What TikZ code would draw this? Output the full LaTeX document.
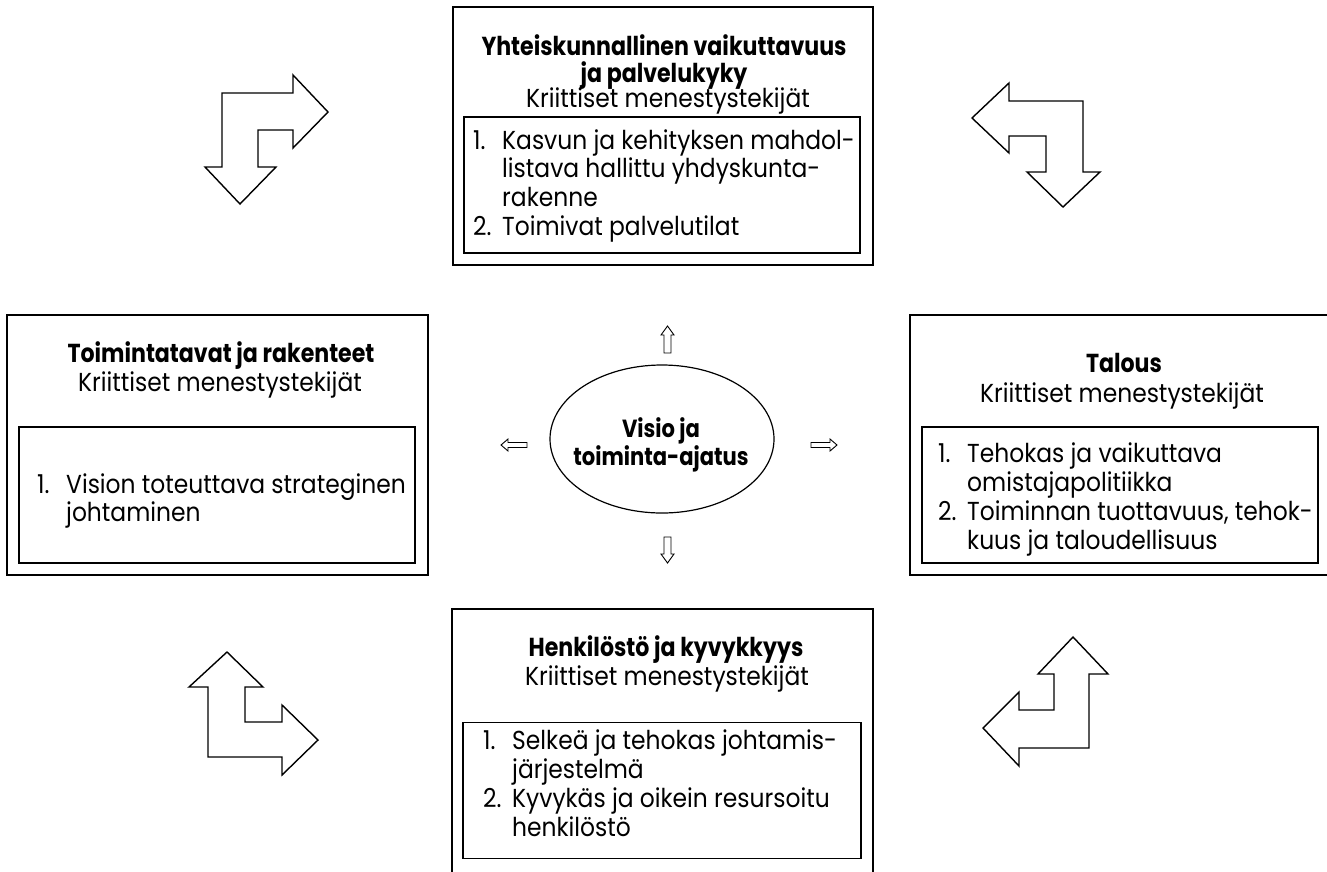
\documentclass[tikz,border=0pt]{standalone}
\usepackage{fontspec}
\setmainfont{Poppins}[FakeStretch=0.9]
\newfontfamily\hdfont{Poppins}[FakeStretch=0.85]
\usetikzlibrary{shapes.geometric}
\newcommand\numlbl[1]{\makebox[29pt][l]{#1}}
\begin{document}
\begin{tikzpicture}[x=1pt,y=-1pt,
  frame/.style={draw=black, line width=1.4pt, rectangle, inner sep=0pt},
  innerbox/.style={draw=black, line width=1.2pt, rectangle, inner sep=0pt},
  bigarrow/.style={draw=black, line width=1.4pt, line join=miter, fill=white},
  smallarrow/.style={draw=black, line width=0.9pt, fill=white, line join=miter},
  ttl/.style={font=\fontsize{26}{27}\selectfont\hdfont\bfseries, anchor=base, inner sep=0pt},
  elltxt/.style={font=\fontsize{24.8}{26}\selectfont\hdfont\bfseries, anchor=base, inner sep=0pt},
  sub/.style={font=\fontsize{26}{27}\selectfont, anchor=base, inner sep=0pt},
  lst/.style={anchor=base west, inner sep=0pt, align=left}]
\useasboundingbox (0,0) rectangle (1327,871);

% outer boxes
\node[frame, minimum width=420, minimum height=258] (topbox) at (663,136) {};
\node[frame, minimum width=421, minimum height=260] (leftbox) at (217.5,445) {};
\node[frame, minimum width=421, minimum height=260] (rightbox) at (1120.5,445) {};
\node[frame, minimum width=421, minimum height=266] (botbox) at (662.5,742) {};
% inner boxes
\node[innerbox, minimum width=396, minimum height=136] (topin) at (662,185) {};
\node[innerbox, minimum width=396, minimum height=136] (leftin) at (217,495) {};
\node[innerbox, minimum width=396, minimum height=136] (rightin) at (1120,495) {};
\node[innerbox, minimum width=398, minimum height=136] (botin) at (662,790.5) {};

% ellipse
\node[draw=black, line width=1.2pt, ellipse, minimum width=224, minimum height=148, inner sep=0pt] (vision) at (662,439) {};
\node[elltxt] (vis1) at (661,437) {Visio ja};
\node[elltxt] (vis2) at (661,465) {toiminta-ajatus};

% top box texts
\node[ttl] (t1) at (664,55) {Yhteiskunnallinen vaikuttavuus};
\node[ttl] (t2) at (664,82) {ja palvelukyky};
\node[sub] (t3) at (668,107) {Kriittiset menestystekijät};
\node[lst, font=\fontsize{26}{28.8}\selectfont] (tl) at (473,149)
  {\begin{tabular}[t]{@{}l@{}l@{}}\numlbl{1.} & Kasvun ja kehityksen mahdol-\\ & listava hallittu yhdyskunta-\\ & rakenne\\ \numlbl{2.} & Toimivat palvelutilat\end{tabular}};

% left box texts
\node[ttl] (l1) at (221,362) {Toimintatavat ja rakenteet};
\node[sub] (l2) at (220,391) {Kriittiset menestystekijät};
\node[lst, font=\fontsize{26}{28}\selectfont] (ll) at (37,493)
  {\begin{tabular}[t]{@{}l@{}l@{}}\numlbl{1.} & Vision toteuttava strateginen\\ & johtaminen\end{tabular}};

% right box texts
\node[ttl] (r1) at (1124,372) {Talous};
\node[sub] (r2) at (1122,402) {Kriittiset menestystekijät};
\node[lst, font=\fontsize{26}{29}\selectfont] (rl) at (938,462)
  {\begin{tabular}[t]{@{}l@{}l@{}}\numlbl{1.} & Tehokas ja vaikuttava\\ & omistajapolitiikka\\ \numlbl{2.} & Toiminnan tuottavuus, tehok-\\ & kuus ja taloudellisuus\end{tabular}};

% bottom box texts
\node[ttl] (b1) at (666,656) {Henkilöstö ja kyvykkyys};
\node[sub] (b2) at (667,685) {Kriittiset menestystekijät};
\node[lst, font=\fontsize{26}{29}\selectfont] (bl) at (483,749)
  {\begin{tabular}[t]{@{}l@{}l@{}}\numlbl{1.} & Selkeä ja tehokas johtamis-\\ & järjestelmä\\ \numlbl{2.} & Kyvykäs ja oikein resursoitu\\ & henkilöstö\end{tabular}};

% small white arrows around the ellipse
\draw[smallarrow] (667.5,326) -- (674,335) -- (671,335) -- (671,353) -- (664,353) -- (664,335) -- (661,335) -- cycle;
\draw[smallarrow] (667.5,563) -- (674,554) -- (671,554) -- (671,537) -- (664,537) -- (664,554) -- (661,554) -- cycle;
\draw[smallarrow] (501,445) -- (508,439) -- (508,442.5) -- (527,442.5) -- (527,447.5) -- (508,447.5) -- (508,451) -- cycle;
\draw[smallarrow] (837,445) -- (830,439) -- (830,442.5) -- (811,442.5) -- (811,447.5) -- (830,447.5) -- (830,451) -- cycle;

% big bent arrows
\draw[bigarrow] (240,204) -- (205,167) -- (222,167) -- (222,93) -- (293,93) -- (293,75) -- (328,112) -- (293,148) -- (293,130) -- (258,130) -- (258,167) -- (276,167) -- cycle;
\draw[bigarrow] (972,118) -- (1009,83) -- (1009,101) -- (1083,101) -- (1083,172) -- (1100,172) -- (1063,207) -- (1027,172) -- (1046,172) -- (1046,136) -- (1009,136) -- (1009,153) -- cycle;
\draw[bigarrow] (227,652) -- (263,687) -- (245,687) -- (245,722) -- (282,722) -- (282,705) -- (318,740) -- (282,775) -- (282,757) -- (208,757) -- (208,687) -- (189,687) -- cycle;
\draw[bigarrow] (1073,637) -- (1108,674) -- (1089,674) -- (1089,748) -- (1019,748) -- (1019,766) -- (983,728) -- (1019,692) -- (1019,710) -- (1054,710) -- (1054,674) -- (1038,674) -- cycle;
\end{tikzpicture}
\end{document}
